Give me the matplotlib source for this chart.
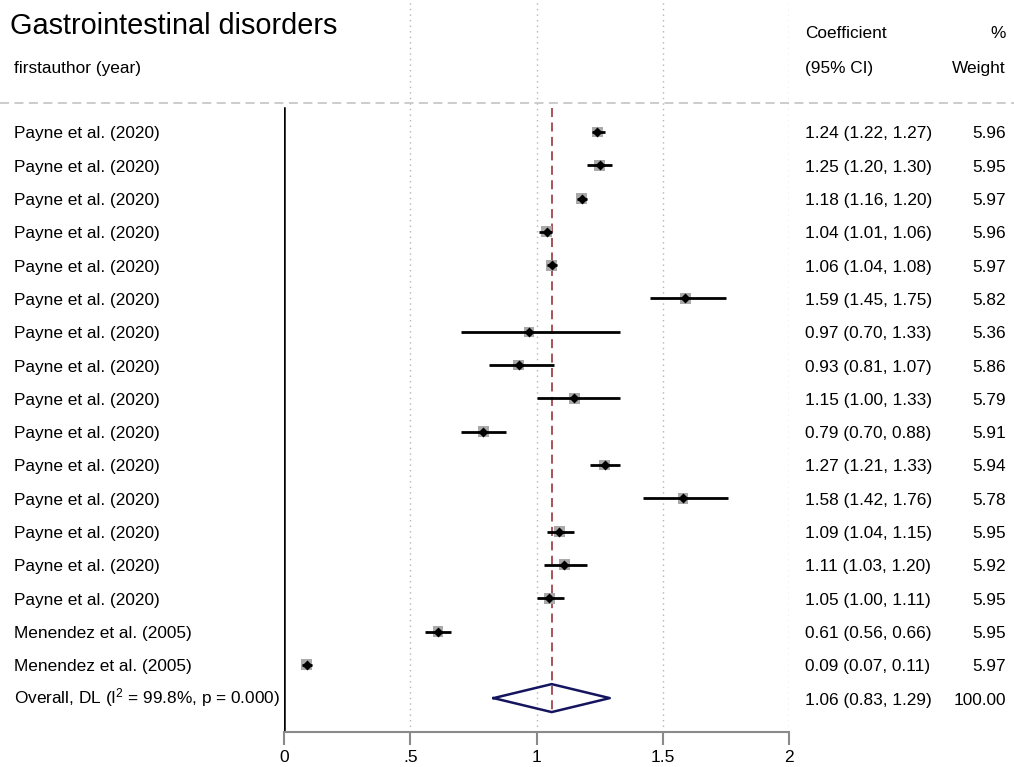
import matplotlib
matplotlib.use("Agg")
import matplotlib.pyplot as plt
import matplotlib.transforms as mtransforms
from matplotlib.lines import Line2D

plt.rcParams['font.family'] = ['Liberation Sans', 'DejaVu Sans']
plt.rcParams['mathtext.fontset'] = 'custom'
plt.rcParams['mathtext.rm'] = 'Liberation Sans'
plt.rcParams['mathtext.it'] = 'Liberation Sans'

# study data
labels = ["Payne et al. (2020)"] * 15 + ["Menendez et al. (2005)"] * 2
coef = [1.24, 1.25, 1.18, 1.04, 1.06, 1.59, 0.97, 0.93, 1.15, 0.79, 1.27, 1.58, 1.09, 1.11, 1.05, 0.61, 0.09]
lo = [1.22, 1.20, 1.16, 1.01, 1.04, 1.45, 0.70, 0.81, 1.00, 0.70, 1.21, 1.42, 1.04, 1.03, 1.00, 0.56, 0.07]
hi = [1.27, 1.30, 1.20, 1.06, 1.08, 1.75, 1.33, 1.07, 1.33, 0.88, 1.33, 1.76, 1.15, 1.20, 1.11, 0.66, 0.11]
weight = [5.96, 5.95, 5.97, 5.96, 5.97, 5.82, 5.36, 5.86, 5.79, 5.91, 5.94, 5.78, 5.95, 5.92, 5.95, 5.95, 5.97]

overall_label = "Overall, DL (I$^2$ = 99.8%, p = 0.000)"
overall = (1.06, 0.83, 1.29)
overall_weight = 100.00

xticks = [0, 0.5, 1, 1.5, 2]
xticklabels = ["0", ".5", "1", "1.5", "2"]

W, H = 1014, 767
fig = plt.figure(figsize=(W / 100, H / 100), dpi=100)
ax = fig.add_axes([284 / W, (H - 732) / H, (789 - 284) / W, 732 / H])

n = len(labels)
row_h = 33.3
top_row = -132 / row_h
bot_row = (732 - 132) / row_h
ax.set_ylim(bot_row, top_row)
ax.set_xlim(0, 2)

# dotted grid lines
for xv in xticks[1:]:
    ax.axvline(xv, color="#b4b4b4", lw=1, ls=(0, (1, 3)), zorder=0)

# null line
ax.plot([0, 0], [(108 - 132) / row_h, bot_row], color="black", lw=1.8, zorder=1)

# overall effect line
ax.plot([overall[0], overall[0]], [(108 - 132) / row_h, n + 0.42],
        color="#a0454c", lw=1.3, ls=(0, (5, 3)), zorder=2)

rows = list(range(n))
for i in rows:
    ax.plot([lo[i], hi[i]], [i, i], color="black", lw=2, zorder=4, solid_capstyle="butt")
sizes = [(w / 5.97) ** 2 * 62 for w in weight]
ax.scatter(coef, rows, s=sizes, marker="s", color="#a9a9a9", zorder=3, linewidths=0)
ax.scatter(coef, rows, s=26, marker="D", color="black", zorder=5, linewidths=0)

# overall diamond
dx = [overall[1], overall[0], overall[2], overall[0], overall[1]]
dy = [n, n - 0.42, n, n + 0.42, n]
ax.plot(dx, dy, color="#14145f", lw=1.8, zorder=5)

# axes styling
for s in ["top", "right", "left"]:
    ax.spines[s].set_visible(False)
ax.spines["bottom"].set_color("#8a8a8a")
ax.spines["bottom"].set_linewidth(1.5)
ax.set_yticks([])
ax.set_xticks(xticks)
ax.set_xticklabels(xticklabels, fontsize=12.5)
ax.tick_params(axis="x", colors="#8a8a8a", length=9, width=1.5, labelcolor="black", pad=4)

# text columns
tr = mtransforms.blended_transform_factory(fig.transFigure, ax.transData)
fs = 12.4
off = 0.06
for i in rows:
    fig.text(14 / W, i + off, labels[i], transform=tr, fontsize=fs, va="center", ha="left")
    fig.text(805 / W, i + off, f"{coef[i]:.2f} ({lo[i]:.2f}, {hi[i]:.2f})", transform=tr,
             fontsize=fs, va="center", ha="left")
    fig.text(1006 / W, i + off, f"{weight[i]:.2f}", transform=tr, fontsize=fs, va="center", ha="right")

fig.text(14 / W, n - 0.02, overall_label, transform=tr, fontsize=fs, va="center", ha="left")
fig.text(805 / W, n + off, f"{overall[0]:.2f} ({overall[1]:.2f}, {overall[2]:.2f})", transform=tr,
         fontsize=fs, va="center", ha="left")
fig.text(1006 / W, n + off, f"{overall_weight:.2f}", transform=tr, fontsize=fs, va="center", ha="right")

# headers
fig.text(10 / W, 1 - 26 / H, "Gastrointestinal disorders", fontsize=20.8, va="center", ha="left")
fig.text(14 / W, 1 - 68 / H, "firstauthor (year)", fontsize=fs, va="center", ha="left")
fig.text(805 / W, 1 - 34 / H, "Coefficient", fontsize=fs, va="center", ha="left")
fig.text(805 / W, 1 - 68 / H, "(95% CI)", fontsize=fs, va="center", ha="left")
fig.text(1006 / W, 1 - 34 / H, "%", fontsize=fs, va="center", ha="right")
fig.text(1006 / W, 1 - 68 / H, "Weight", fontsize=fs, va="center", ha="right")

# dashed separator
fig.add_artist(Line2D([0, 1], [1 - 103 / H, 1 - 103 / H], transform=fig.transFigure,
                      color="#c8c8c8", lw=1.3, ls=(0, (5, 3))))

fig.savefig("out.png", dpi=100)
